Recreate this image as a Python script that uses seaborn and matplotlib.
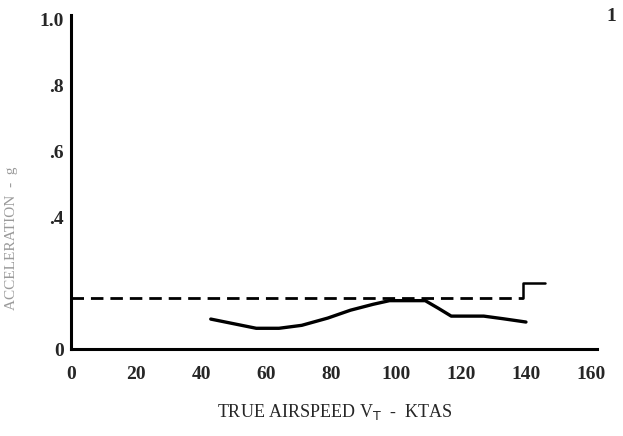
import matplotlib
matplotlib.use("Agg")
import matplotlib.pyplot as plt
import seaborn as sns
import pandas as pd

# Measured response versus true airspeed
speed_kt = [43, 50, 57, 64, 71, 79, 86, 93, 98, 104, 109, 113, 117, 122, 127, 133, 140]
response = [0.091, 0.077, 0.063, 0.063, 0.072, 0.094, 0.118, 0.136, 0.147, 0.147, 0.147, 0.124, 0.100, 0.100, 0.100, 0.092, 0.082]

# Limit boundary (dashed) and the step at its high-speed end
limit_speed = [0, 139]
limit_value = [0.155, 0.155]
step_speed = [139, 139, 146]
step_value = [0.155, 0.200, 0.200]

x_ticks = [0, 20, 40, 60, 80, 100, 120, 140, 160]
y_ticks = [0, 0.2, 0.4, 0.6, 0.8, 1.0]
y_tick_labels = ["0", "", ".4", ".6", ".8", "1.0"]

sns.set_theme(style="white")
plt.rcParams["font.family"] = ["Liberation Serif", "DejaVu Serif"]

fig = plt.figure(figsize=(6.23, 4.36), dpi=100)
ax = fig.add_axes([0.114, 0.1995, 0.845, 0.766])

curve = pd.DataFrame({"speed": speed_kt, "value": response})
limit = pd.DataFrame({"speed": limit_speed, "value": limit_value})
step = pd.DataFrame({"speed": step_speed, "value": step_value})

sns.lineplot(data=curve, x="speed", y="value", ax=ax, color="black",
             linewidth=2.4, sort=False, estimator=None)
sns.lineplot(data=limit, x="speed", y="value", ax=ax, color="black",
             linewidth=2.0, sort=False, estimator=None)
ax.lines[-1].set_dashes([4.5, 2.5])
sns.lineplot(data=step, x="speed", y="value", ax=ax, color="black",
             linewidth=1.8, sort=False, estimator=None)

ax.set_xlim(0, 162)
ax.set_ylim(0, 1.015)
ax.set_xticks(x_ticks)
ax.set_xticklabels([str(t) for t in x_ticks], fontsize=14, fontweight="bold")
ax.set_yticks(y_ticks)
ax.set_yticklabels(y_tick_labels, fontsize=14, fontweight="bold")
ax.tick_params(axis="x", length=0, pad=12)
ax.tick_params(axis="y", length=0, pad=5)

for side in ("top", "right"):
    ax.spines[side].set_visible(False)
for side in ("left", "bottom"):
    ax.spines[side].set_color("black")
    ax.spines[side].set_linewidth(2.2)

ax.set_xlabel(r"TRUE AIRSPEED V$_{\mathrm{T}}$  -  KTAS", fontsize=13, labelpad=14)
ax.set_ylabel("ACCELERATION  -  g", fontsize=11, color="#9a9a9a")
ax.yaxis.set_label_coords(-0.1, 0.33)

fig.text(0.982, 0.962, "1", fontsize=14, fontweight="bold", ha="center", va="center")

fig.savefig("out.png", dpi=100)
